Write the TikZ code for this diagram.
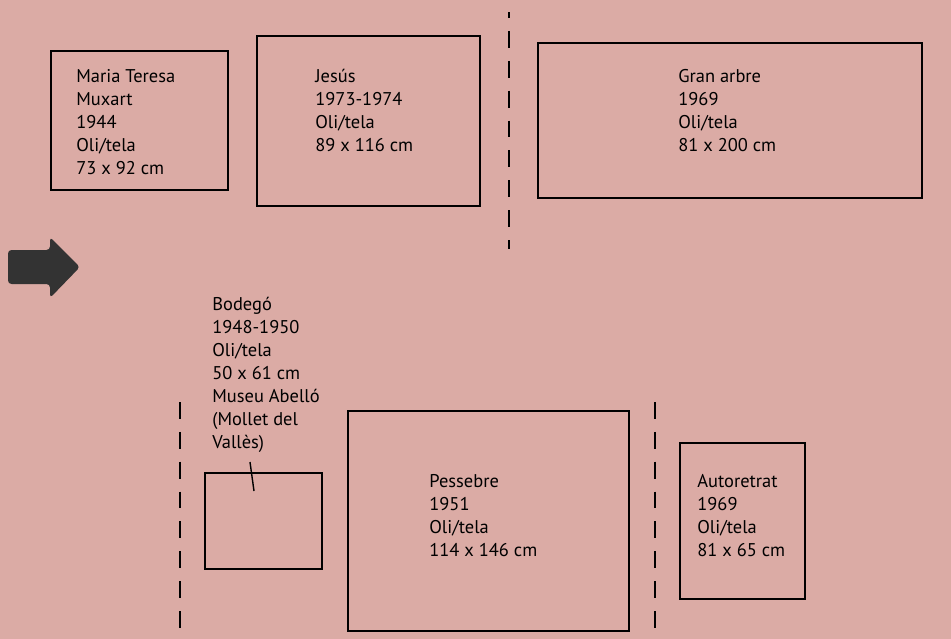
\documentclass[tikz,border=0pt]{standalone}
\usepackage{fontspec}
\setmainfont{PT Sans}
\usepackage{tikz}
\usetikzlibrary{arrows.meta}
\definecolor{wall}{RGB}{219,171,165}
\definecolor{arrowgrey}{RGB}{51,51,51}

\begin{document}
\begin{tikzpicture}[
        x=0.02cm, y=-0.02cm,
        frame/.style={draw=black, line width=1.2pt},
        divider/.style={draw=black, line width=1.2pt, dash pattern=on 9.6pt off 7.4pt},
        caption/.style={align=left, anchor=base west, inner sep=0pt, font=\fontsize{10.5}{13}\selectfont},
    ]
    \fill[wall] (0,0) rectangle (951,639);
    \useasboundingbox (0,0) rectangle (951,639);
    % fila de dalt (base = darrera linia)
    \draw[frame] (51,51) rectangle (228,190);
    \node[caption] (muxart) at (76,174) {Maria Teresa\\Muxart\\1944\\Oli/tela\\73 x 92 cm};
    \draw[frame] (257,36) rectangle (480,206);
    \node[caption] (jesus) at (315,151) {Jesús\\1973-1974\\Oli/tela\\89 x 116 cm};
    \draw[divider, dash phase=6.2pt] (509,12) -- (509,249);
    \draw[frame] (538,43) rectangle (922,198);
    \node[caption] (arbre) at (678,151) {Gran arbre\\1969\\Oli/tela\\81 x 200 cm};
    % fletxa
    \fill[arrowgrey, rounded corners=2pt] (8,250) -- (50,250) -- (50,237) -- (80,267)
        -- (50,298) -- (50,284) -- (8,284) -- cycle;
    % fila de baix
    \draw[divider] (180,402) -- (180,645);
    \node[caption] (bodego) at (212,448) {Bodegó\\1948-1950\\Oli/tela\\50 x 61 cm\\Museu Abelló\\(Mollet del\\Vallès)};
    \draw[frame] (205,473) rectangle (322,569);
    \coordinate (bodegotop) at (250,462);
    \coordinate (bodegoin) at (254,491);
    \draw[line width=0.8pt] (bodegotop) -- (bodegoin);
    \draw[frame] (348,411) rectangle (629,631);
    \node[caption] (pessebre) at (429,556) {Pessebre\\1951\\Oli/tela\\114 x 146 cm};
    \draw[divider] (655,402) -- (655,645);
    \draw[frame] (680,443) rectangle (805,599);
    \node[caption] (autoretrat) at (697,556) {Autoretrat\\1969\\Oli/tela\\81 x 65 cm};
\end{tikzpicture}
\end{document}
